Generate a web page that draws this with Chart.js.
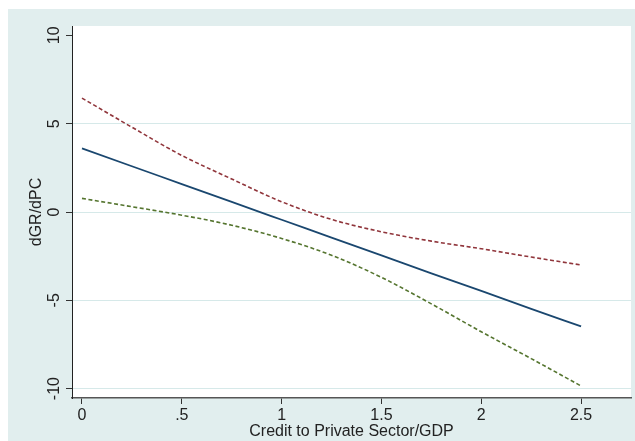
<!DOCTYPE html>
<html>
<head>
<meta charset="utf-8">
<script src="https://cdn.jsdelivr.net/npm/chart.js@4/dist/chart.umd.min.js"></script>
<style>
  html, body { margin: 0; padding: 0; background: #fff; }
  #wrap { position: relative; width: 635px; height: 441px; }
</style>
</head>
<body>
<div id="wrap"><canvas id="c" width="635" height="441"></canvas></div>
<script>
// credit to private sector / GDP (x) and marginal effect dGR/dPC with 95% CI
const xVals = [0, 0.25, 0.5, 0.75, 1, 1.25, 1.5, 1.75, 2, 2.25, 2.5];
const effect = [3.6, 2.59, 1.58, 0.57, -0.44, -1.45, -2.46, -3.47, -4.47, -5.48, -6.48];
const upperCI = [6.45, 4.8, 3.2, 1.87, 0.58, -0.42, -1.12, -1.65, -2.08, -2.55, -3.0];
const lowerCI = [0.77, 0.3, -0.18, -0.75, -1.5, -2.45, -3.7, -5.2, -6.78, -8.3, -9.85];

const xTicks = [0, 0.5, 1, 1.5, 2, 2.5];
const xTickLabels = ['0', '.5', '1', '1.5', '2', '2.5'];
const yTicks = [-10, -5, 0, 5, 10];
const yTickLabels = ['-10', '-5', '0', '5', '10'];

const FONT = 'Liberation Sans, Arial, sans-serif';
const toPts = ys => xVals.map((x, i) => ({ x, y: ys[i] }));

const bgPlugin = {
  id: 'bg',
  beforeDraw(chart) {
    const { ctx, chartArea: a } = chart;
    ctx.save();
    ctx.fillStyle = '#e1eeee';
    ctx.fillRect(8, 9, chart.width - 8, chart.height - 9);
    ctx.fillStyle = '#ffffff';
    ctx.fillRect(a.left, a.top, a.right - a.left, a.bottom - a.top);
    ctx.restore();
  }
};

const line = (data, color, dash, w) => ({
  data, borderColor: color, borderWidth: w, borderDash: dash,
  pointRadius: 0, fill: false, cubicInterpolationMode: 'monotone'
});

new Chart(document.getElementById('c'), {
  type: 'line',
  data: {
    datasets: [
      line(toPts(upperCI), '#90353b', [4, 2.5], 1.6),
      line(toPts(lowerCI), '#55752f', [4, 2.5], 1.6),
      line(toPts(effect), '#1a476f', [], 1.8)
    ]
  },
  options: {
    responsive: false, animation: false,
    layout: { padding: { top: 26, right: 4, left: 0, bottom: 0 } },
    plugins: { legend: { display: false }, tooltip: { enabled: false } },
    scales: {
      x: {
        type: 'linear', min: -0.05, max: 2.75,
        afterBuildTicks: s => { s.ticks = xTicks.map(v => ({ value: v })); },
        afterFit: s => { s.height = 43; },
        grid: { drawOnChartArea: false, drawTicks: true, tickLength: 6, tickColor: '#333', tickWidth: 1 },
        border: { color: '#555', width: 1.5 },
        ticks: {
          color: '#222', padding: 2, maxRotation: 0, autoSkip: false,
          font: { family: FONT, size: 16 },
          callback: (v) => xTickLabels[xTicks.indexOf(v)] ?? ''
        },
        title: {
          display: true, text: 'Credit to Private Sector/GDP', color: '#222',
          font: { family: FONT, size: 16, lineHeight: 1.2 }, padding: { top: 0, bottom: 0 }
        }
      },
      y: {
        type: 'linear', min: -10.53, max: 10.53,
        afterBuildTicks: s => { s.ticks = yTicks.map(v => ({ value: v })); },
        afterFit: s => { s.width = 72; },
        grid: {
          color: c => (c.tick && c.tick.value === 10) ? 'rgba(0,0,0,0)' : '#d6e9e9',
          lineWidth: 1, tickLength: 6, tickColor: '#333', tickWidth: 1
        },
        border: { color: '#222', width: 1 },
        ticks: {
          color: '#222', padding: 0, minRotation: 90, maxRotation: 90,
          crossAlign: 'center', autoSkip: false,
          font: { family: FONT, size: 16 },
          callback: (v) => yTickLabels[yTicks.indexOf(v)] ?? ''
        },
        title: {
          display: true, text: 'dGR/dPC', color: '#222',
          font: { family: FONT, size: 16, lineHeight: 1.2 }, padding: { top: 27, bottom: 0 }
        }
      }
    }
  },
  plugins: [bgPlugin]
});
</script>
</body>
</html>
